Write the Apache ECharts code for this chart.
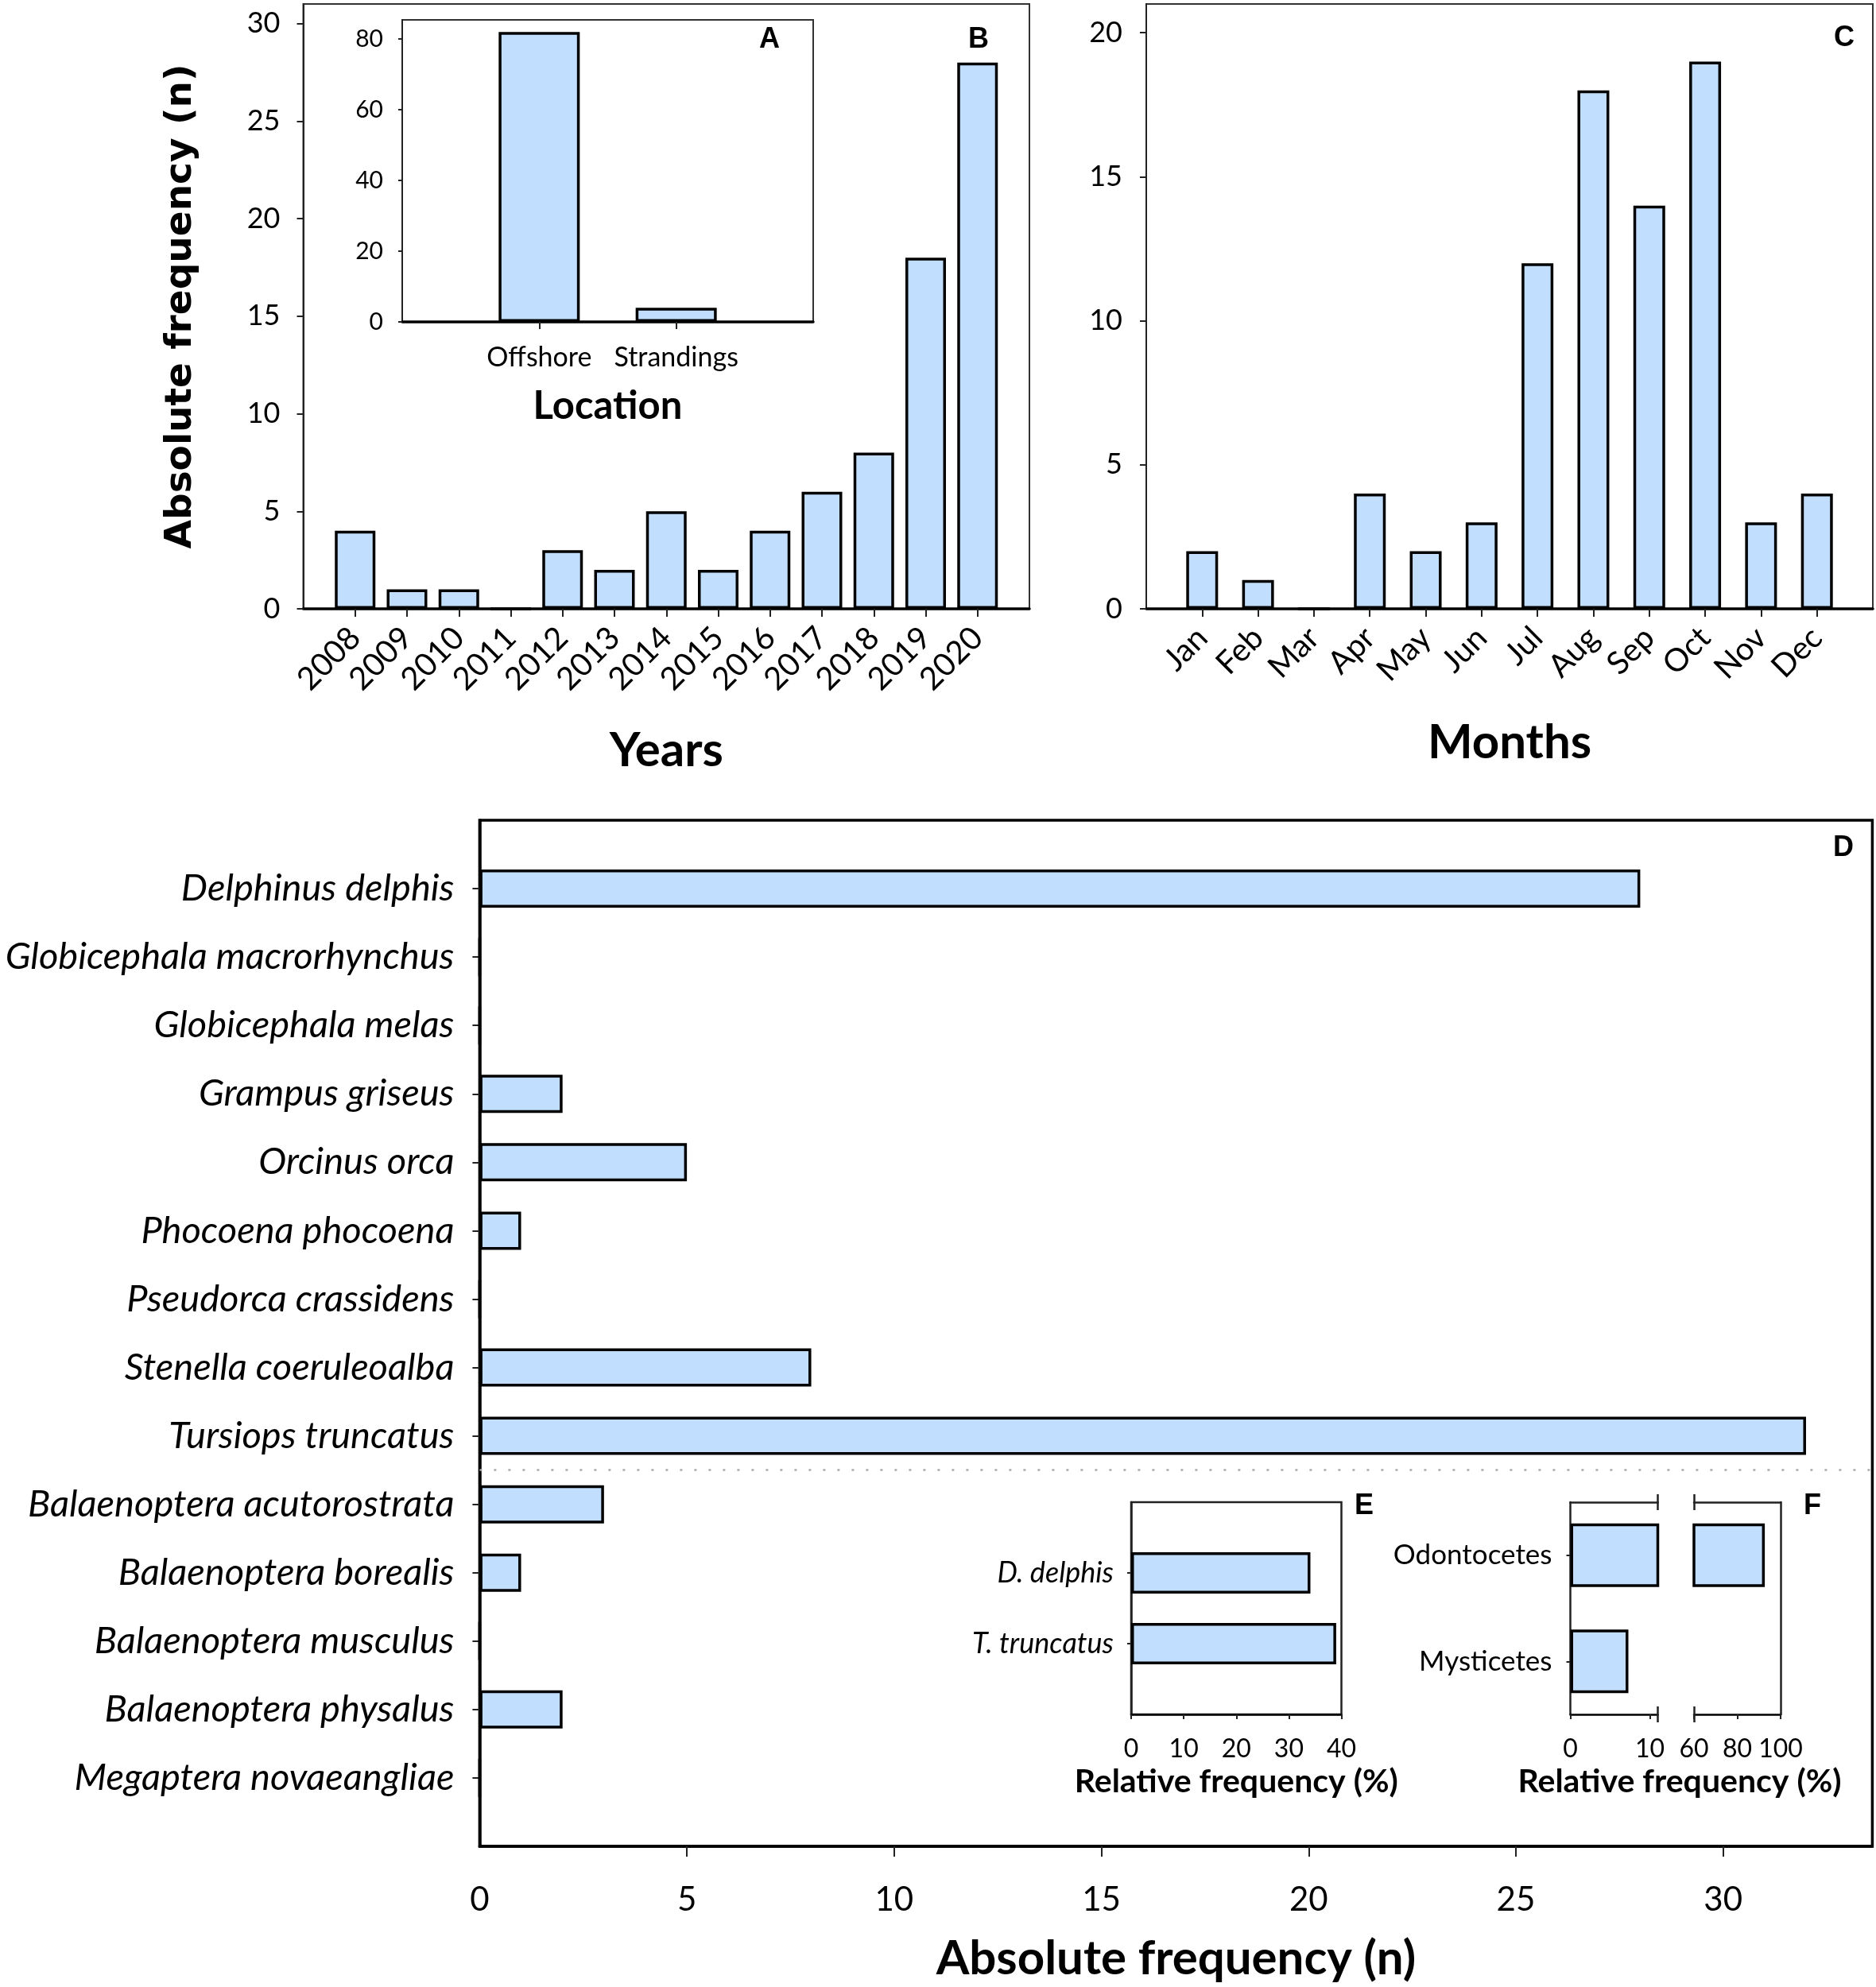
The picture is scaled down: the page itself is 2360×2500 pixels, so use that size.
<!DOCTYPE html>
<html><head><meta charset="utf-8">
<script src="https://cdn.jsdelivr.net/npm/echarts@6/dist/echarts.min.js"></script>
<style>html,body{margin:0;padding:0;background:#fff}#chart{width:2360px;height:2500px}</style>
</head><body><div id="chart"></div>
<script>
// ---------- data ----------
const years = [2008,2009,2010,2011,2012,2013,2014,2015,2016,2017,2018,2019,2020];
const yearCounts = [4,1,1,0,3,2,5,2,4,6,8,18,28];
const locations = ['Offshore','Strandings'];
const locationCounts = [82,4];
const months = ['Jan','Feb','Mar','Apr','May','Jun','Jul','Aug','Sep','Oct','Nov','Dec'];
const monthCounts = [2,1,0,4,2,3,12,18,14,19,3,4];
const species = ['Delphinus delphis','Globicephala macrorhynchus','Globicephala melas','Grampus griseus','Orcinus orca','Phocoena phocoena','Pseudorca crassidens','Stenella coeruleoalba','Tursiops truncatus','Balaenoptera acutorostrata','Balaenoptera borealis','Balaenoptera musculus','Balaenoptera physalus','Megaptera novaeangliae'];
const speciesCounts = [28,0,0,2,5,1,0,8,32,3,1,0,2,0];
const odontoceteSpecies = 9;
const mainSpecies = ['D. delphis','T. truncatus'];
const mainSpeciesPct = [34.1,39.0];
const suborders = ['Odontocetes','Mysticetes'];
const suborderPct = [92.7,7.3];
const yearAxisTicks = [0,5,10,15,20,25,30];
const locationAxisTicks = [0,20,40,60,80];
const monthAxisTicks = [0,5,10,15,20];
const speciesAxisTicks = [0,5,10,15,20,25,30];
const pctTicksLow = [0,10];
const pctTicksHigh = [60,80,100];
const pctBreakLow = 11;
const pctBreakHigh = 60;

// ---------- style helpers ----------
const FONT = 'Lato, "Open Sans", sans-serif';
const BAR = {color:'#C2DEFF', borderColor:'#000', borderWidth:3.5};
const lbl = (size, extra) => Object.assign({fontFamily:FONT, fontSize:size, color:'#000'}, extra || {});
const axLine = (w, c) => ({show:true, onZero:false, lineStyle:{color:c || '#222', width:w}});
const tick = (len, extra) => Object.assign({show:true, length:len, lineStyle:{color:'#222', width:2}}, extra || {});
const off = {show:false};
const gridBase = {show:true, borderColor:'#333', borderWidth:2, backgroundColor:'rgba(0,0,0,0)', containLabel:false, outerBoundsMode:'none'};
const nameBold = (size, fam) => ({fontFamily: fam || FONT, fontWeight:'bold', fontSize:size, color:'#000'});
const idx = arr => arr.map((_, i) => i + 1);
const padCats = arr => [''].concat(arr, ['']);
const padData = arr => [null].concat(arr, [null]);
const notBlank = (i, v) => v !== '';

const breakAxis = (grid, min, max, pos, val) => ({
  type:'value', gridIndex:grid, min:min, max:max, position:pos, offset:-10,
  axisLine:off, axisLabel:off, splitLine:off,
  axisTick:{show:true, length:20, customValues:[val], lineStyle:{color:'#222', width:2.5}}
});

const option = {
  animation:false,
  backgroundColor:'#fff',
  grid:[
    Object.assign({}, gridBase, {left:381.5, top:5, width:913.5, height:761}),
    Object.assign({}, gridBase, {left:506, top:25, width:517, height:380}),
    Object.assign({}, gridBase, {left:1442, top:5, width:914, height:761}),
    Object.assign({}, gridBase, {left:603.4, top:1032, width:1752, height:1291, borderColor:'#000', borderWidth:3.5}),
    Object.assign({}, gridBase, {left:1423, top:1890, width:264.5, height:267, borderColor:'#222', borderWidth:2.5}),
    Object.assign({}, gridBase, {show:false, left:1975.5, top:1890, width:110, height:267}),
    Object.assign({}, gridBase, {show:false, left:2131, top:1890, width:109, height:267})
  ],
  xAxis:[
    // 0: B years
    {type:'value', gridIndex:0, min:2007, max:2021, splitLine:off,
     axisLine:axLine(3.5,'#000'), axisTick:tick(10,{customValues:years}),
     axisLabel:lbl(40,{customValues:years, rotate:45, margin:30, formatter:v => String(v)}),
     name:'Years', nameLocation:'middle', nameGap:149, nameMoveOverlap:false, nameTextStyle:nameBold(60)},
    // 1: A location
    {type:'value', gridIndex:1, min:0, max:locations.length + 1, splitLine:off,
     axisLine:axLine(3.5,'#000'), axisTick:tick(9,{customValues:idx(locations)}),
     axisLabel:lbl(34,{customValues:idx(locations), margin:28, formatter:v => locations[v - 1] || ''}),
     name:'Location', nameLocation:'middle', nameGap:82, nameMoveOverlap:false, nameTextStyle:nameBold(49)},
    // 2: C months
    {type:'value', gridIndex:2, min:0, max:months.length + 1, splitLine:off,
     axisLine:axLine(3.5,'#000'), axisTick:tick(10,{customValues:idx(months)}),
     axisLabel:lbl(40,{customValues:idx(months), rotate:45, margin:30, formatter:v => months[v - 1] || ''}),
     name:'Months', nameLocation:'middle', nameGap:139, nameMoveOverlap:false, nameTextStyle:nameBold(60)},
    // 3: D species counts
    {type:'value', gridIndex:3, min:0, max:33.6, splitLine:off,
     axisLine:axLine(3.5,'#000'), axisTick:tick(13,{customValues:speciesAxisTicks.slice(1)}),
     axisLabel:lbl(42,{customValues:speciesAxisTicks, margin:46}),
     name:'Absolute frequency (n)', nameLocation:'middle', nameGap:112, nameMoveOverlap:false, nameTextStyle:nameBold(60)},
    // 4: E percent
    {type:'value', gridIndex:4, min:0, max:40, interval:10, splitLine:off,
     axisLine:axLine(2.5,'#000'), axisTick:tick(6),
     axisLabel:lbl(32,{margin:28}),
     name:'Relative frequency (%)', nameLocation:'middle', nameGap:64, nameMoveOverlap:false, nameTextStyle:nameBold(41)},
    // 5: F low segment bottom
    {type:'value', gridIndex:5, min:0, max:pctBreakLow, splitLine:off,
     axisLine:axLine(2.5,'#000'), axisTick:tick(6,{customValues:pctTicksLow}),
     axisLabel:lbl(32,{customValues:pctTicksLow, margin:28})},
    // 6: F low segment top
    {type:'value', gridIndex:5, min:0, max:pctBreakLow, position:'top', splitLine:off,
     axisLine:axLine(2.5,'#222'), axisTick:off, axisLabel:off},
    // 7,8: F low break marks
    breakAxis(5, 0, pctBreakLow, 'bottom', pctBreakLow),
    breakAxis(5, 0, pctBreakLow, 'top', pctBreakLow),
    // 9: F high segment bottom
    {type:'value', gridIndex:6, min:pctBreakHigh, max:100, splitLine:off,
     axisLine:axLine(2.5,'#000'), axisTick:tick(6,{customValues:pctTicksHigh}),
     axisLabel:lbl(32,{customValues:pctTicksHigh, margin:28})},
    // 10: F high segment top
    {type:'value', gridIndex:6, min:pctBreakHigh, max:100, position:'top', splitLine:off,
     axisLine:axLine(2.5,'#222'), axisTick:off, axisLabel:off},
    // 11,12: F high break marks
    breakAxis(6, pctBreakHigh, 100, 'bottom', pctBreakHigh),
    breakAxis(6, pctBreakHigh, 100, 'top', pctBreakHigh)
  ],
  yAxis:[
    // 0: B
    {type:'value', gridIndex:0, min:0, max:31, splitLine:off,
     axisLine:axLine(2,'#222'), axisTick:tick(8,{customValues:yearAxisTicks}),
     axisLabel:lbl(36,{customValues:yearAxisTicks, margin:29}),
     name:'Absolute frequency (n)', nameLocation:'middle', nameGap:130, nameMoveOverlap:false,
     nameTextStyle:nameBold(47,'"DejaVu Sans", Verdana, sans-serif')},
    // 1: A
    {type:'value', gridIndex:1, min:0, max:85.4, splitLine:off,
     axisLine:axLine(2,'#222'), axisTick:tick(5,{customValues:locationAxisTicks}),
     axisLabel:lbl(30,{customValues:locationAxisTicks, margin:24})},
    // 2: C
    {type:'value', gridIndex:2, min:0, max:21, splitLine:off,
     axisLine:axLine(2,'#222'), axisTick:tick(8,{customValues:monthAxisTicks}),
     axisLabel:lbl(36,{customValues:monthAxisTicks, margin:30})},
    // 3: D species
    {type:'category', gridIndex:3, data:padCats(species), boundaryGap:false, inverse:true,
     axisLine:axLine(3.5,'#000'), axisTick:tick(9,{interval:notBlank}),
     axisLabel:lbl(47,{interval:0, fontStyle:'italic', margin:32}), splitLine:off},
    // 4: E species
    {type:'category', gridIndex:4, data:padCats(mainSpecies), boundaryGap:false, inverse:true,
     axisLine:axLine(2.5,'#222'), axisTick:tick(5,{interval:notBlank}),
     axisLabel:lbl(36,{interval:0, fontStyle:'italic', margin:22}), splitLine:off},
    // 5: F low
    {type:'category', gridIndex:5, data:suborders, inverse:true,
     axisLine:axLine(2.5,'#222'), axisTick:tick(5,{alignWithLabel:true}),
     axisLabel:lbl(35,{margin:23}), splitLine:off},
    // 6: F high
    {type:'category', gridIndex:6, data:suborders, inverse:true, position:'right',
     axisLine:axLine(2.5,'#222'), axisTick:off, axisLabel:off, splitLine:off},
    // 7: D helper scale for the suborder separator
    {type:'value', gridIndex:3, min:0, max:species.length + 1, inverse:true, show:false, splitLine:off}
  ],
  series:[
    {type:'bar', xAxisIndex:0, yAxisIndex:0, barWidth:51, itemStyle:BAR,
     data:years.map((y, i) => [y, yearCounts[i]])},
    {type:'bar', xAxisIndex:1, yAxisIndex:1, barWidth:102, itemStyle:BAR,
     data:locations.map((l, i) => [i + 1, locationCounts[i]])},
    {type:'bar', xAxisIndex:2, yAxisIndex:2, barWidth:40, itemStyle:BAR,
     data:months.map((m, i) => [i + 1, monthCounts[i]])},
    {type:'bar', xAxisIndex:3, yAxisIndex:3, barWidth:48, itemStyle:BAR,
     data:padData(speciesCounts)},
    {type:'line', xAxisIndex:3, yAxisIndex:7, data:[], silent:true,
     markLine:{silent:true, symbol:['none','none'], label:{show:false},
       lineStyle:{type:[3,15], color:'#aaa', width:2.5},
       data:[{yAxis:odontoceteSpecies + 0.5}]}},
    {type:'bar', xAxisIndex:4, yAxisIndex:4, barWidth:52, itemStyle:BAR,
     data:padData(mainSpeciesPct)},
    {type:'bar', xAxisIndex:5, yAxisIndex:5, barWidth:80, itemStyle:BAR, data:suborderPct},
    {type:'bar', xAxisIndex:9, yAxisIndex:6, barWidth:80, itemStyle:BAR, data:suborderPct}
  ],
  graphic:[
    {type:'text', x:968, y:50, style:{text:'A', font:'bold 36px "Liberation Sans", Arial', align:'center', verticalAlign:'middle', fill:'#000'}},
    {type:'text', x:1231, y:50, style:{text:'B', font:'bold 36px "Liberation Sans", Arial', align:'center', verticalAlign:'middle', fill:'#000'}},
    {type:'text', x:2320, y:48, style:{text:'C', font:'bold 36px "Liberation Sans", Arial', align:'center', verticalAlign:'middle', fill:'#000'}},
    {type:'text', x:2319, y:1067, style:{text:'D', font:'bold 36px "Liberation Sans", Arial', align:'center', verticalAlign:'middle', fill:'#000'}},
    {type:'text', x:1716, y:1895, style:{text:'E', font:'bold 36px "Liberation Sans", Arial', align:'center', verticalAlign:'middle', fill:'#000'}},
    {type:'text', x:2280, y:1895, style:{text:'F', font:'bold 36px "Liberation Sans", Arial', align:'center', verticalAlign:'middle', fill:'#000'}},
    {type:'text', x:2113, y:2242, style:{text:'Relative frequency (%)', font:'bold 41px Lato', align:'center', verticalAlign:'middle', fill:'#000'}}
  ]
};
const chart = echarts.init(document.getElementById('chart'));
chart.setOption(option);
</script></body></html>
